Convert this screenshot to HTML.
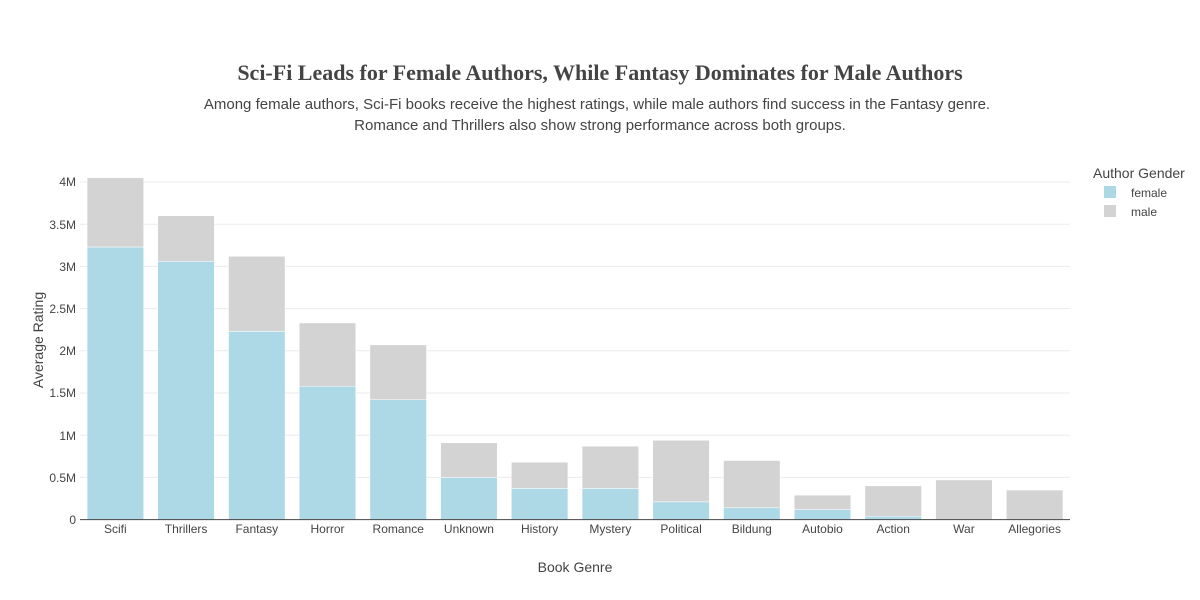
<!DOCTYPE html>
<html><head><meta charset="utf-8"><style>body{margin:0;background:#fff}svg{display:block}</style></head>
<body>
<svg width="1200" height="600" xmlns="http://www.w3.org/2000/svg" font-family="Liberation Sans, Arial, sans-serif">
<rect width="1200" height="600" fill="#fff"/>
<text x="600" y="80" text-anchor="middle" font-family="Liberation Serif, serif" font-weight="bold" font-size="22" fill="#444">Sci-Fi Leads for Female Authors, While Fantasy Dominates for Male Authors</text>
<text x="597" y="109" text-anchor="middle" font-size="15" fill="#444">Among female authors, Sci-Fi books receive the highest ratings, while male authors find success in the Fantasy genre.</text>
<text x="600" y="130" text-anchor="middle" font-size="15" fill="#444">Romance and Thrillers also show strong performance across both groups.</text>
<g stroke="#ebebeb" stroke-width="1">
<line x1="80" x2="1070" y1="477.4" y2="477.4"/><line x1="80" x2="1070" y1="435.2" y2="435.2"/><line x1="80" x2="1070" y1="393" y2="393"/><line x1="80" x2="1070" y1="350.8" y2="350.8"/><line x1="80" x2="1070" y1="308.6" y2="308.6"/><line x1="80" x2="1070" y1="266.4" y2="266.4"/><line x1="80" x2="1070" y1="224.2" y2="224.2"/><line x1="80" x2="1070" y1="182" y2="182"/>
</g>
<g font-size="12" fill="#444" text-anchor="end">
<text x="76" y="524">0</text><text x="76" y="482">0.5M</text><text x="76" y="440">1M</text><text x="76" y="397">1.5M</text><text x="76" y="355">2M</text><text x="76" y="313">2.5M</text><text x="76" y="271">3M</text><text x="76" y="229">3.5M</text><text x="76" y="186">4M</text>
</g>
<g id="bars" stroke="#fff" stroke-width="0.5"></g>
<line x1="80" x2="1070" y1="519.6" y2="519.6" stroke="#444" stroke-width="1"/>
<g id="labels" font-size="12" fill="#444" text-anchor="middle"></g>
<text x="575" y="572" text-anchor="middle" font-size="14" fill="#444">Book Genre</text>
<text transform="translate(43,340) rotate(-90)" text-anchor="middle" font-size="14" fill="#444">Average Rating</text>
<text x="1093" y="178" font-size="14" fill="#444">Author Gender</text>
<rect x="1104" y="186" width="12" height="12" fill="#add8e6"/>
<text x="1131" y="197" font-size="12" fill="#444">female</text>
<rect x="1104" y="205" width="12" height="12" fill="#d3d3d3"/>
<text x="1131" y="216" font-size="12" fill="#444">male</text>
<script>
var d=[["Scifi",3.23,4.05],["Thrillers",3.06,3.6],["Fantasy",2.23,3.12],["Horror",1.58,2.33],["Romance",1.42,2.07],["Unknown",0.5,0.91],["History",0.37,0.68],["Mystery",0.37,0.87],["Political",0.21,0.94],["Bildung",0.14,0.7],["Autobio",0.12,0.29],["Action",0.04,0.4],["War",0,0.47],["Allegories",0,0.35]];
var ns="http://www.w3.org/2000/svg",b=document.getElementById("bars"),l=document.getElementById("labels");
var y0=519.6,s=84.4,step=990/14,w=step*0.8;
d.forEach(function(r,i){var cx=80+step*(i+0.5);
function rect(a,c,col){var e=document.createElementNS(ns,"rect");e.setAttribute("x",cx-w/2);e.setAttribute("width",w);e.setAttribute("y",y0-c*s);e.setAttribute("height",Math.max(0,(c-a)*s));e.setAttribute("fill",col);b.appendChild(e);}
if(r[1]>0)rect(0,r[1],"#add8e6");rect(r[1],r[2],"#d3d3d3");
var t=document.createElementNS(ns,"text");t.setAttribute("x",cx);t.setAttribute("y",533);t.textContent=r[0];l.appendChild(t);});
</script>
</svg>
</body></html>
